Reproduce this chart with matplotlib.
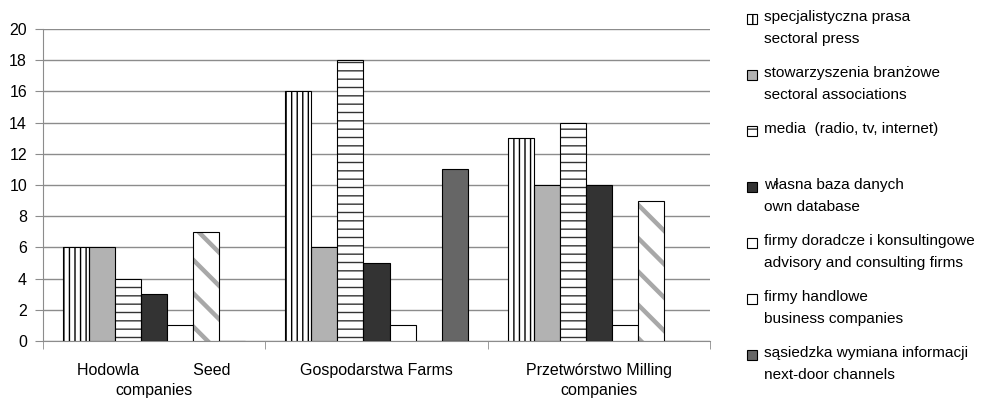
import matplotlib
matplotlib.use("Agg")
import matplotlib.pyplot as plt
from matplotlib.patches import Rectangle
import numpy as np

plt.rcParams['font.family'] = ['Liberation Sans', 'DejaVu Sans']

categories = ["Hodowla            Seed\ncompanies", "Gospodarstwa Farms", "Przetwórstwo Milling\ncompanies"]
series_labels = [
    "specjalistyczna prasa\nsectoral press",
    "stowarzyszenia branżowe\nsectoral associations",
    "media  (radio, tv, internet)",
    "własna baza danych\nown database",
    "firmy doradcze i konsultingowe\nadvisory and consulting firms",
    "firmy handlowe\nbusiness companies",
    "sąsiedzka wymiana informacji\nnext-door channels",
]
press = [6, 16, 13]
associations = [6, 6, 10]
media = [4, 18, 14]
own_database = [3, 5, 10]
advisory = [1, 1, 1]
business = [7, 0, 9]
nextdoor = [0, 11, 0]
values = [press, associations, media, own_database, advisory, business, nextdoor]

# style per series: (facecolor, hatch, hatch color, hatch linewidth)
styles = [
    ("white", "|||", "black", 1.0),
    ("#b2b2b2", None, None, None),
    ("white", "--", "#333333", 1.0),
    ("#333333", None, None, None),
    ("white", None, None, None),
    ("white", "\\", "#a8a8a8", 3.2),
    ("#666666", None, None, None),
]

FS = 11.5
LFS = 11.1
W, H = 983, 401
fig = plt.figure(figsize=(W / 100, H / 100), dpi=100)
ax = fig.add_axes([43 / W, 1 - 341 / H, (710 - 43) / W, (341 - 29) / H])


def hatched(kind, *args, hatch_lw=1.0, **kw):
    old = plt.rcParams['hatch.linewidth']
    plt.rcParams['hatch.linewidth'] = hatch_lw
    try:
        if kind == "bar":
            arts = ax.bar(*args, **kw)
        else:
            arts = [Rectangle(*args, **kw)]
            for a in arts:
                fig.add_artist(a)
        for a in arts:
            try:
                a.set_hatch_linewidth(hatch_lw)
            except Exception:
                pass
    finally:
        plt.rcParams['hatch.linewidth'] = old
    return arts


x = np.arange(len(categories))
bw = 26 / 222
n = len(values)
for i, (vals, (fc, hatch, hc, hlw)) in enumerate(zip(values, styles)):
    pos = x + (i - (n - 1) / 2) * bw
    if hatch:
        hatched("bar", pos, vals, bw, hatch_lw=hlw, color=fc, edgecolor=hc,
                linewidth=0, hatch=hatch, zorder=3)
        ax.bar(pos, vals, bw, fill=False, edgecolor="black", linewidth=0.8, zorder=4)
    else:
        ax.bar(pos, vals, bw, color=fc, edgecolor="black", linewidth=0.8, zorder=3)

ax.set_xlim(-0.5, 2.5)
ax.set_ylim(0, 20)
ax.set_yticks(np.arange(0, 21, 2))
ax.yaxis.grid(True, color="#8c8c8c", linewidth=1.0, zorder=0)
ax.set_axisbelow(True)
for s in ["top", "right"]:
    ax.spines[s].set_visible(False)
ax.spines["left"].set_color("#8c8c8c")
ax.spines["bottom"].set_color("#8c8c8c")
ax.tick_params(axis="y", length=5.5, color="#8c8c8c", labelsize=FS, pad=6)
ax.set_xticks(x)
ax.set_xticklabels(categories, fontsize=FS, linespacing=1.4)
ax.tick_params(axis="x", which="major", length=0, pad=16)
ax.set_xticks([-0.5, 0.5, 1.5, 2.5], minor=True)
ax.tick_params(axis="x", which="minor", length=5.5, color="#8c8c8c")

# legend (manual)
y0 = 19
step = 56
lx = 747
for i, (lab, (fc, hatch, hc, hlw)) in enumerate(zip(series_labels, styles)):
    yc = y0 + i * step
    xy = (lx / W, 1 - (yc + 5) / H)
    if hatch:
        hatched("rect", xy, 10 / W, 10 / H, hatch_lw=min(hlw, 1.5), transform=fig.transFigure,
                facecolor=fc, edgecolor=hc, linewidth=0, hatch=hatch)
        fig.add_artist(Rectangle(xy, 10 / W, 10 / H, transform=fig.transFigure,
                                 fill=False, edgecolor="black", linewidth=0.8))
    else:
        fig.add_artist(Rectangle(xy, 10 / W, 10 / H, transform=fig.transFigure,
                                 facecolor=fc, edgecolor="black", linewidth=0.8))
    fig.text(764 / W, 1 - (yc - 9) / H, lab, fontsize=LFS, va="top", ha="left", linespacing=1.7)

fig.savefig("out.png", dpi=100)
